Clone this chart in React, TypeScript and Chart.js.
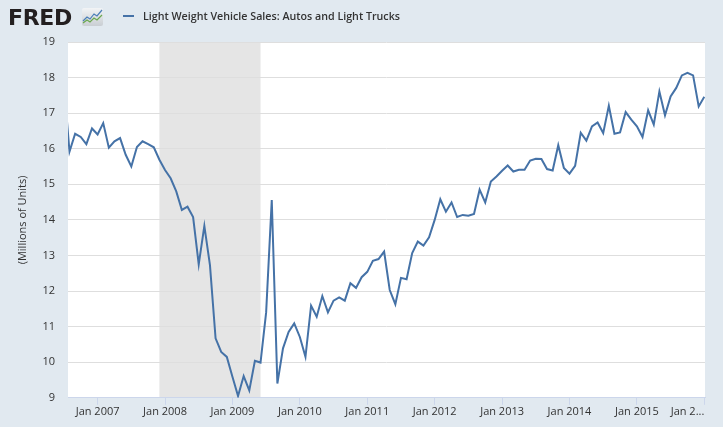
import React, { useEffect, useRef } from "react";
import { Chart, registerables } from "chart.js";

Chart.register(...registerables);

// ---- data ----
const months: string[] = [
  "2006-07", "2006-08", "2006-09", "2006-10", "2006-11", "2006-12",
  "2007-01", "2007-02", "2007-03", "2007-04", "2007-05", "2007-06", "2007-07", "2007-08", "2007-09", "2007-10", "2007-11", "2007-12",
  "2008-01", "2008-02", "2008-03", "2008-04", "2008-05", "2008-06", "2008-07", "2008-08", "2008-09", "2008-10", "2008-11", "2008-12",
  "2009-01", "2009-02", "2009-03", "2009-04", "2009-05", "2009-06", "2009-07", "2009-08", "2009-09", "2009-10", "2009-11", "2009-12",
  "2010-01", "2010-02", "2010-03", "2010-04", "2010-05", "2010-06", "2010-07", "2010-08", "2010-09", "2010-10", "2010-11", "2010-12",
  "2011-01", "2011-02", "2011-03", "2011-04", "2011-05", "2011-06", "2011-07", "2011-08", "2011-09", "2011-10", "2011-11", "2011-12",
  "2012-01", "2012-02", "2012-03", "2012-04", "2012-05", "2012-06", "2012-07", "2012-08", "2012-09", "2012-10", "2012-11", "2012-12",
  "2013-01", "2013-02", "2013-03", "2013-04", "2013-05", "2013-06", "2013-07", "2013-08", "2013-09", "2013-10", "2013-11", "2013-12",
  "2014-01", "2014-02", "2014-03", "2014-04", "2014-05", "2014-06", "2014-07", "2014-08", "2014-09", "2014-10", "2014-11", "2014-12",
  "2015-01", "2015-02", "2015-03", "2015-04", "2015-05", "2015-06", "2015-07", "2015-08", "2015-09", "2015-10", "2015-11", "2015-12",
  "2016-01",
];

const sales: number[] = [
  17.8, 15.92, 16.42, 16.33, 16.13, 16.57,
  16.4, 16.72, 16.03, 16.21, 16.3, 15.83, 15.5, 16.05, 16.21, 16.13, 16.04, 15.69,
  15.4, 15.17, 14.8, 14.28, 14.37, 14.08, 12.75, 13.83, 12.73, 10.67, 10.29, 10.15,
  9.59, 9.05, 9.61, 9.21, 10.04, 9.99, 11.4, 14.56, 9.4, 10.39, 10.85, 11.09,
  10.71, 10.15, 11.59, 11.28, 11.86, 11.4, 11.73, 11.82, 11.73, 12.22, 12.09, 12.39,
  12.54, 12.85, 12.9, 13.11, 12.03, 11.63, 12.37, 12.33, 13.07, 13.39, 13.28, 13.51,
  14.0, 14.58, 14.23, 14.49, 14.08, 14.14, 14.12, 14.17, 14.85, 14.49, 15.08, 15.22,
  15.38, 15.53, 15.36, 15.41, 15.41, 15.67, 15.72, 15.71, 15.43, 15.39, 16.1, 15.46,
  15.3, 15.52, 16.45, 16.23, 16.63, 16.74, 16.44, 17.21, 16.42, 16.46, 17.03, 16.82,
  16.63, 16.33, 17.08, 16.68, 17.61, 16.94, 17.47, 17.71, 18.06, 18.13, 18.06, 17.19,
  17.46,
];

const tickMonths: string[] = [
  "2007-01", "2008-01", "2009-01", "2010-01", "2011-01",
  "2012-01", "2013-01", "2014-01", "2015-01", "2016-01",
];
const tickLabels: string[] = [
  "Jan 2007", "Jan 2008", "Jan 2009", "Jan 2010", "Jan 2011",
  "Jan 2012", "Jan 2013", "Jan 2014", "Jan 2015", "Jan 2...",
];

const recessionStart = "2007-12";
const recessionEnd = "2009-06";

const seriesName = "Light Weight Vehicle Sales: Autos and Light Trucks";
const yTitle = "(Millions of Units)";
const yMin = 9;
const yMax = 19;
// visible window, in months relative to Jan 2007
const viewStart = -5.27;
const viewEnd = 108.12;

function monthIndex(s: string): number {
  const [y, m] = s.split("-").map(Number);
  return (y - 2007) * 12 + (m - 1);
}

const FONT = "'Open Sans', sans-serif";
const LINE = "#4572a7";

const backgroundPlugin = {
  id: "fredBackground",
  beforeDraw(chart: any) {
    const { ctx, chartArea, scales } = chart;
    const { left, top, right, bottom } = chartArea;
    ctx.save();
    ctx.fillStyle = "#ffffff";
    ctx.fillRect(left, top, right - left, bottom - top);
    const x0 = scales.x.getPixelForValue(monthIndex(recessionStart));
    const x1 = scales.x.getPixelForValue(monthIndex(recessionEnd));
    ctx.fillStyle = "#e5e5e5";
    ctx.fillRect(x0, top, x1 - x0, bottom - top);
    ctx.restore();
  },
};

export default function App() {
  const canvasRef = useRef<HTMLCanvasElement | null>(null);

  useEffect(() => {
    const canvas = canvasRef.current;
    if (!canvas) return;
    const points = months.map((m, i) => ({ x: monthIndex(m), y: sales[i] }));
    const chart = new Chart(canvas, {
      type: "line",
      data: {
        datasets: [
          {
            label: seriesName,
            data: points,
            borderColor: LINE,
            borderWidth: 2,
            pointRadius: 0,
            tension: 0,
            fill: false,
            clip: 0,
          } as any,
        ],
      },
      options: {
        animation: false,
        responsive: false,
        events: [],
        layout: { padding: { top: 42, right: 18, bottom: 9, left: 0 } },
        plugins: {
          legend: { display: false },
          tooltip: { enabled: false },
        },
        scales: {
          x: {
            type: "linear",
            min: viewStart,
            max: viewEnd,
            afterBuildTicks: (scale: any) => {
              scale.ticks = [{ value: viewStart }].concat(
                tickMonths.map((t) => ({ value: monthIndex(t) }))
              );
            },
            grid: {
              display: true,
              drawOnChartArea: false,
              drawTicks: true,
              tickLength: 7,
              tickColor: (ctx: any) => (ctx.index === 0 ? "rgba(0,0,0,0)" : "#ccd6eb"),
            },
            border: { display: true, color: "#ccd6eb", width: 1 },
            ticks: {
              autoSkip: false,
              maxRotation: 0,
              align: "inner",
              padding: 0,
              color: "#333333",
              font: { family: FONT, size: 11 },
              callback: (_v: any, index: number) => (index === 0 ? "" : tickLabels[index - 1]),
            },
          } as any,
          y: {
            type: "linear",
            min: yMin,
            max: yMax,
            afterFit: (scale: any) => {
              scale.width = 68;
            },
            grid: { color: "#dedede", lineWidth: 1, drawTicks: false },
            border: { display: false },
            ticks: {
              stepSize: 1,
              padding: 13,
              color: "#333333",
              font: { family: FONT, size: 11 },
            },
            title: {
              display: true,
              text: yTitle,
              color: "#333333",
              font: { family: FONT, size: 11 },
              padding: { top: 16, bottom: 0 },
            },
          } as any,
        },
      },
      plugins: [backgroundPlugin],
    });
    return () => chart.destroy();
  }, []);

  return (
    <div
      style={{
        position: "fixed",
        left: 0,
        top: 0,
        width: 723,
        height: 427,
        background: "#e1e9f0",
        overflow: "hidden",
      }}
    >
      <canvas ref={canvasRef} width={723} height={427} style={{ display: "block" }} />
      <div
        style={{
          position: "absolute",
          left: 8,
          top: 3,
          fontFamily: "'DejaVu Sans', sans-serif",
          fontWeight: 700,
          fontSize: 22,
          letterSpacing: -0.3,
          color: "#231f20",
          lineHeight: "30px",
        }}
      >
        FRED
      </div>
      <svg
        width={21}
        height={18}
        viewBox="0 0 21 18"
        style={{ position: "absolute", left: 82, top: 8 }}
      >
        <defs>
          <linearGradient id="fredIconBg" x1="0" y1="0" x2="0" y2="1">
            <stop offset="0" stopColor="#f2f4f6" />
            <stop offset="1" stopColor="#c9ced3" />
          </linearGradient>
        </defs>
        <rect x="0" y="0" width="21" height="18" rx="2" fill="url(#fredIconBg)" />
        <polyline points="1,13 5,9 8,11 12,6 15,8 20,2" fill="none" stroke="#4b7fb8" strokeWidth="1.2" />
        <polyline points="1,15 5,12 8,14 12,10 15,12 20,7" fill="none" stroke="#6aa84f" strokeWidth="1.2" />
      </svg>
      <div
        style={{
          position: "absolute",
          left: 123,
          top: 9,
          display: "flex",
          alignItems: "center",
          height: 14,
          fontFamily: FONT,
          fontSize: 10.7,
          fontWeight: 600,
          color: "#333333",
          whiteSpace: "nowrap",
        }}
      >
        <span
          style={{
            display: "inline-block",
            width: 11,
            height: 2,
            background: LINE,
            marginRight: 9,
          }}
        />
        <span>{seriesName}</span>
      </div>
    </div>
  );
}
